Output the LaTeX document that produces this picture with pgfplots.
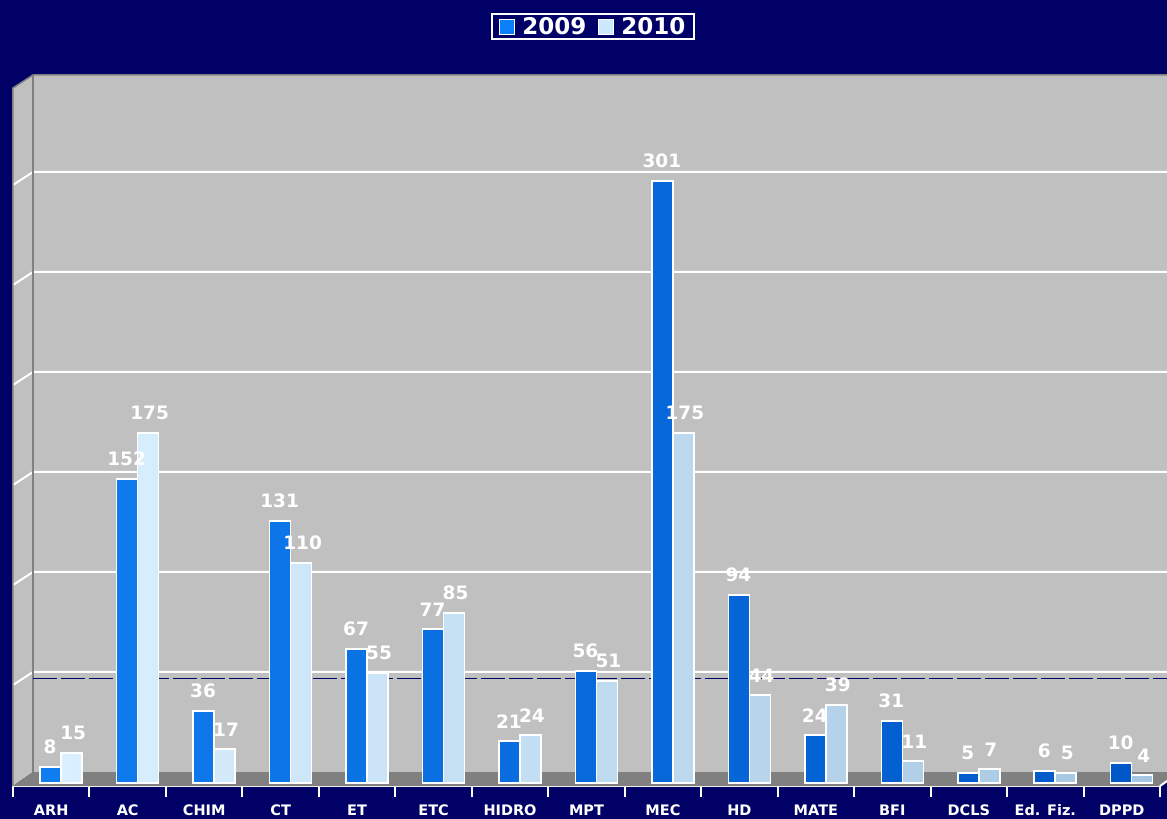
\documentclass[border=0pt]{standalone}
\usepackage{pgfplots}
\usepackage{pgfplotstable}
\pgfplotsset{compat=1.18}
\usepackage{fontspec}
\setmainfont{DejaVu Sans}
\definecolor{navy}{RGB}{0,0,102}
\definecolor{wall}{RGB}{192,192,192}
\definecolor{edge}{RGB}{128,128,128}
\definecolor{floorc}{RGB}{128,128,128}
\definecolor{bA}{RGB}{15,125,240}
\definecolor{bB}{RGB}{0,88,200}
\definecolor{lA}{RGB}{218,240,255}
\definecolor{lB}{RGB}{165,198,225}
\definecolor{lg1}{RGB}{10,128,250}
\definecolor{lg2}{RGB}{204,232,255}

\pgfplotstableread{
x y9 y10
0 8 15
1 152 175
2 36 17
3 131 110
4 67 55
5 77 85
6 21 24
7 56 51
8 301 175
9 94 44
10 24 39
11 31 11
12 5 7
13 6 5
14 10 4
}\data

\begin{document}
\begin{tikzpicture}
\fill[navy] (0,0) rectangle (1167pt,819pt);
\begin{axis}[
  at={(13pt,33pt)}, anchor=south west, scale only axis,
  width=1147pt, height=711pt,
  xmin=-0.5, xmax=14.5, ymin=-1.5, ymax=354, clip=false,
  /pgf/number format/assume math mode=true,
  axis y line=none, axis x line*=bottom,
  x axis line style={white, line width=2pt, -},
  xtick={0,...,14},
  xticklabels={ARH,AC,CHIM,CT,ET,ETC,HIDRO,MPT,MEC,HD,MATE,BFI,DCLS,Ed. Fiz.,DPPD},
  minor xtick={-0.5,0.5,...,14.5},
  major tick length=0pt, minor tick length=11pt, tick align=outside,
  major tick style={draw=none},
  minor tick style={white, line width=2pt},
  xticklabel style={text=white, font=\bfseries\fontsize{14.5}{17}\selectfont, anchor=base, yshift=-29pt},
  legend style={at={(0.506,1.068)}, anchor=center, draw=white, line width=2pt, fill=navy,
    text=white, font=\bfseries\fontsize{23}{26}\selectfont, legend columns=2,
    /tikz/every odd column/.append style={column sep=5pt},
    /tikz/every even column/.append style={column sep=10pt}, inner xsep=7pt, inner ysep=1pt},
  legend image code/.code={\draw[#1, line width=1pt] (0pt,-7.5pt) rectangle (15pt,7.5pt);},
]
\addlegendimage{fill=lg1, draw=white}
\addlegendimage{fill=lg2, draw=white}
\legend{2009,2010}

% walls and floor
\fill[wall] (axis cs:-0.2385,5.5) rectangle (axis cs:14.8,354);
\fill[wall] (axis cs:-0.5,-1.5) -- (axis cs:-0.5,347.5) -- (axis cs:-0.2385,354) -- (axis cs:-0.2385,5.5) -- cycle;
\fill[floorc] (axis cs:-0.5,-1.5) -- (axis cs:14.5,-1.5) -- (axis cs:14.7615,5.5) -- (axis cs:-0.2385,5.5) -- cycle;
% gridlines
\draw[white, line width=2pt] (axis cs:-0.5,49) -- (axis cs:-0.2385,55.5) -- (axis cs:14.8,55.5);
\draw[white, line width=2pt] (axis cs:-0.5,99) -- (axis cs:-0.2385,105.5) -- (axis cs:14.8,105.5);
\draw[white, line width=2pt] (axis cs:-0.5,149) -- (axis cs:-0.2385,155.5) -- (axis cs:14.8,155.5);
\draw[white, line width=2pt] (axis cs:-0.5,199) -- (axis cs:-0.2385,205.5) -- (axis cs:14.8,205.5);
\draw[white, line width=2pt] (axis cs:-0.5,249) -- (axis cs:-0.2385,255.5) -- (axis cs:14.8,255.5);
\draw[white, line width=2pt] (axis cs:-0.5,299) -- (axis cs:-0.2385,305.5) -- (axis cs:14.8,305.5);
% edges
\draw[edge, line width=1.5pt] (axis cs:-0.5,-1.5) -- (axis cs:-0.5,347.5) -- (axis cs:-0.2385,354) -- (axis cs:14.8,354);
\draw[edge, line width=1.5pt] (axis cs:-0.2385,5.5) -- (axis cs:-0.2385,354);
\draw[white, line width=2pt] (axis cs:14.5,-1.5) -- (axis cs:14.7615,5.5);

\addplot[navy, line width=1pt, dash pattern=on 24pt off 4pt, forget plot] coordinates {(-0.2385,52) (14.8,52)};

\addplot[ybar, bar width=21pt, bar shift=-10.5pt, left color=bA, right color=bB, draw=white, line width=1.5pt,
  nodes near coords, nodes near coords style={text=white, font=\bfseries\fontsize{18.5}{21}\selectfont, anchor=south, inner sep=0pt, yshift=12pt, xshift=-11pt},
  forget plot] table[x expr=\thisrow{x}+0.13, y=y9] {\data};
\addplot[ybar, bar width=21pt, bar shift=10.5pt, left color=lA, right color=lB, draw=white, line width=1.5pt,
  nodes near coords, nodes near coords style={text=white, font=\bfseries\fontsize{18.5}{21}\selectfont, anchor=south, inner sep=0pt, yshift=12pt, xshift=12pt},
  forget plot] table[x expr=\thisrow{x}+0.13, y=y10] {\data};
\end{axis}
\pgfresetboundingbox
\useasboundingbox (0,0) rectangle (1167pt,819pt);
\end{tikzpicture}
\end{document}
